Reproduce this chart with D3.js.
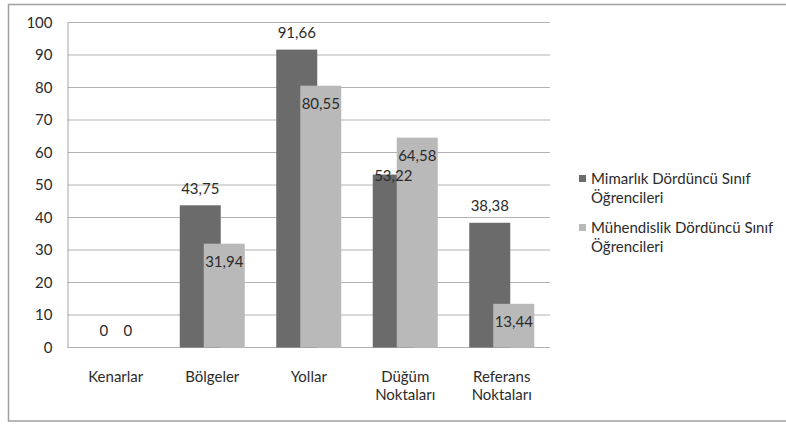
<!DOCTYPE html>
<html><head><meta charset="utf-8">
<script src="https://cdn.jsdelivr.net/npm/d3@7"></script>
<style>
html,body{margin:0;padding:0;background:#fff;}
svg text{font-family:Lato,"Open Sans",sans-serif;fill:#2b2b2b;}
</style></head>
<body><svg id="c" width="786" height="424"></svg>
<script>
const categories = [["Kenarlar"],["Bölgeler"],["Yollar"],["Düğüm","Noktaları"],["Referans","Noktaları"]];
const seriesNames = [["Mimarlık Dördüncü Sınıf","Öğrencileri"],["Mühendislik Dördüncü Sınıf","Öğrencileri"]];
const mimarlik = [0, 43.75, 91.66, 53.22, 38.38];
const muhendislik = [0, 31.94, 80.55, 64.58, 13.44];
const valueLabels1 = ["0","43,75","91,66","53,22","38,38"];
const valueLabels2 = ["0","31,94","80,55","64,58","13,44"];
const yTicks = [0,10,20,30,40,50,60,70,80,90,100];
// label placement: "out" = above bar, "in" = inside top, "mid" = centred on bar top
const place1 = ["out","out","out","mid","out"];
const place2 = ["out","in","in","in","in"];

const colors = ["#6b6b6b","#b9b9b9"];
const FS = 15;
const svg = d3.select("#c");
const L = 67.5, R = 550, T = 22.5, B = 347.5;

svg.append("rect").attr("x",8.5).attr("y",4.5).attr("width",790).attr("height",416.5)
  .attr("fill","#fff").attr("stroke","#a0a0a0").attr("stroke-width",1.5);

const x = d3.scaleBand().domain(d3.range(categories.length)).range([L,R]).paddingInner(0).paddingOuter(0);
const y = d3.scaleLinear().domain([0,100]).range([B,T]);

// gridlines
svg.append("g").selectAll("line").data(yTicks).join("line")
  .attr("x1",L).attr("x2",R).attr("y1",d=>y(d)).attr("y2",d=>y(d))
  .attr("stroke","#b3b3b3").attr("stroke-width",1);

// y axis
const ya = svg.append("g").attr("transform",`translate(${L},0)`)
  .call(d3.axisLeft(y).tickValues(yTicks).tickSize(0).tickPadding(15).tickFormat(d3.format("d")));
ya.select(".domain").attr("stroke","#a6a6a6");
ya.selectAll("text").attr("font-size",FS).attr("fill","#2b2b2b").style("font-family","Lato");

// bars
const bw = 41, off = 24;
const cw = x.bandwidth();
const groupStart = i => x(i) + (cw - (bw + off))/2;
const series = [mimarlik, muhendislik];
series.forEach((vals, s) => {
  svg.append("g").selectAll("rect").data(vals).join("rect")
    .attr("x",(d,i)=>groupStart(i) + s*off)
    .attr("y",d=>y(d)).attr("width",bw).attr("height",d=>B-y(d))
    .attr("fill",colors[s]);
});

// value labels
const labSets = [[mimarlik,valueLabels1,place1],[muhendislik,valueLabels2,place2]];
labSets.forEach(([vals,labs,pl],s) => {
  svg.append("g").selectAll("text").data(vals).join("text")
    .attr("x",(d,i)=>groupStart(i) + s*off + bw/2)
    .attr("y",(d,i)=>{
      const top = y(d);
      if (pl[i]==="out") return top - 17;
      if (pl[i]==="in") return top + 18;
      return top + 1;
    })
    .attr("dy","0.35em").attr("text-anchor","middle").attr("font-size",FS)
    .text((d,i)=>labs[i]);
});

// category labels
const cg = svg.append("g");
categories.forEach((lines,i)=>{
  const t = cg.append("text").attr("x",x(i)+cw/2).attr("y",377).attr("text-anchor","middle").attr("font-size",FS);
  lines.forEach((ln,k)=>t.append("tspan").attr("x",x(i)+cw/2).attr("dy",k===0?"0.35em":"17.5").text(ln));
});

// legend
const lg = svg.append("g");
seriesNames.forEach((lines,s)=>{
  const yy = 178.5 + s*49;
  lg.append("rect").attr("x",579).attr("y",yy-3.5).attr("width",7).attr("height",7).attr("fill",colors[s]);
  const t = lg.append("text").attr("x",591).attr("y",yy).attr("font-size",FS);
  lines.forEach((ln,k)=>t.append("tspan").attr("x",591).attr("dy",k===0?"0.35em":"19.5").text(ln));
});
</script></body></html>
